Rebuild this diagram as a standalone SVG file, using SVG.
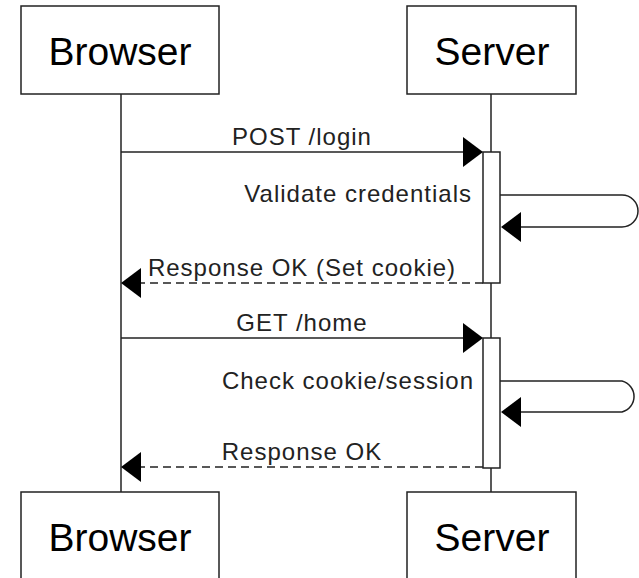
<svg xmlns="http://www.w3.org/2000/svg" width="639" height="578" viewBox="0 0 639 578">
  <style>
    .box { fill: #fff; stroke: #222; stroke-width: 1.5; }
    .life { stroke: #222; stroke-width: 1.5; fill: none; }
    .msg { stroke: #222; stroke-width: 1.5; fill: none; }
    .dash { stroke-dasharray: 8 5; }
    .act { fill: #fff; stroke: #222; stroke-width: 1.5; }
    .head { fill: #000; }
    .pname { font-family: "Liberation Sans", Arial, sans-serif; font-size: 39px; fill: #000; text-anchor: middle; }
    .lbl { font-family: "Liberation Sans", Arial, sans-serif; font-size: 24px; letter-spacing: 1px; fill: #222; }
  </style>
  <rect width="639" height="578" fill="#fff"/>

  <!-- lifelines -->
  <g id="lifelines">
    <line class="life" x1="121" y1="94" x2="121" y2="492"/>
    <line class="life" x1="491" y1="94" x2="491" y2="492"/>
  </g>

  <!-- participants -->
  <g id="browser-top">
    <rect class="box" x="21" y="6" width="198" height="88"/>
    <text class="pname" x="120" y="65">Browser</text>
  </g>
  <g id="server-top">
    <rect class="box" x="407" y="6" width="169" height="88"/>
    <text class="pname" x="492" y="65">Server</text>
  </g>
  <g id="browser-bottom">
    <rect class="box" x="21" y="492" width="198" height="90"/>
    <text class="pname" x="120" y="551">Browser</text>
  </g>
  <g id="server-bottom">
    <rect class="box" x="407" y="492" width="169" height="90"/>
    <text class="pname" x="492" y="551">Server</text>
  </g>

  <!-- activation bars -->
  <g id="activations">
    <rect class="act" x="483" y="152" width="17" height="131"/>
    <rect class="act" x="483" y="338" width="17" height="130"/>
  </g>

  <!-- messages -->
  <g id="connectors">
    <line class="msg" x1="121" y1="152" x2="466" y2="152"/>
    <polygon class="head" points="483,152 463,137 463,167"/>
    <text class="lbl" x="302" y="145" text-anchor="middle">POST /login</text>

    <path class="msg" d="M500,195 H622 A16,16 0 0 1 622,227 H518"/>
    <polygon class="head" points="501,227 521,212 521,242"/>
    <text class="lbl" x="472" y="202" text-anchor="end">Validate credentials</text>

    <line class="msg dash" x1="483" y1="283" x2="138" y2="283"/>
    <polygon class="head" points="121,283 141,268 141,298"/>
    <text class="lbl" x="302" y="276" text-anchor="middle">Response OK (Set cookie)</text>

    <line class="msg" x1="121" y1="338" x2="466" y2="338"/>
    <polygon class="head" points="483,338 463,323 463,353"/>
    <text class="lbl" x="302" y="331" text-anchor="middle">GET /home</text>

    <path class="msg" d="M500,381 H622 A16,16 0 0 1 622,412 H518"/>
    <polygon class="head" points="501,412 521,397 521,427"/>
    <text class="lbl" x="474" y="389" text-anchor="end">Check cookie/session</text>

    <line class="msg dash" x1="483" y1="467" x2="138" y2="467"/>
    <polygon class="head" points="121,467 141,452 141,482"/>
    <text class="lbl" x="302" y="460" text-anchor="middle">Response OK</text>
  </g>
</svg>
